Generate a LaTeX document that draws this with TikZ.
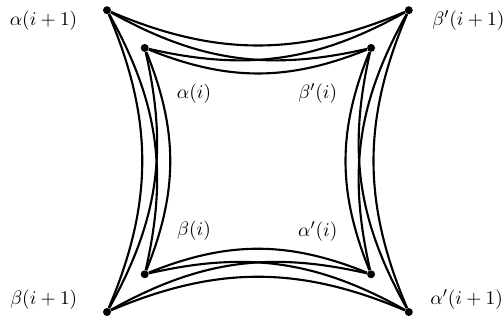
\documentclass[tikz,border=0pt]{standalone}
\usetikzlibrary{positioning}

\begin{document}
\begin{tikzpicture}[font=\fontsize{11}{13}\selectfont,
      pt/.style={circle, fill=black, inner sep=0pt, minimum size=4.5pt},
      arc/.style={line width=1.2pt, bend right=#1},
      arc/.default=23,
    ]
    \useasboundingbox (-2.127,-0.179) rectangle (7.893,6.203);

    % Outer corners
    \node[pt] (a1)  at (0, 6) {};
    \node[pt] (bp1) at (6, 6) {};
    \node[pt] (ap1) at (6, 0) {};
    \node[pt] (b1)  at (0, 0) {};

    % Inner corners
    \node[pt] (a0)  at (0.75, 5.25) {};
    \node[pt] (bp0) at (5.25, 5.25) {};
    \node[pt] (ap0) at (5.25, 0.75) {};
    \node[pt] (b0)  at (0.75, 0.75) {};

    % Outer labels
    \node[left=0.38cm of a1, yshift=-0.21cm] (la1) {$\alpha(i+1)$};
    \node[right=0.26cm of bp1, yshift=-0.21cm] (lbp1) {$\beta'(i+1)$};
    \node[left=0.38cm of b1, yshift=0.24cm] (lb1) {$\beta(i+1)$};
    \node[right=0.22cm of ap1, yshift=0.24cm] (lap1) {$\alpha'(i+1)$};

    % Inner labels
    \node (la0)  at (1.73, 4.35) {$\alpha(i)$};
    \node (lbp0) at (4.19, 4.35) {$\beta'(i)$};
    \node (lb0)  at (1.73, 1.61) {$\beta(i)$};
    \node (lap0) at (4.19, 1.61) {$\alpha'(i)$};

    % Outer sides
    \draw[arc] (a1) to (bp1);
    \draw[arc] (bp1) to (ap1);
    \draw[arc] (ap1) to (b1);
    \draw[arc] (b1) to (a1);

    % Inner sides
    \draw[arc=22] (a0) to (bp0);
    \draw[arc=22] (bp0) to (ap0);
    \draw[arc=22] (ap0) to (b0);
    \draw[arc=22] (b0) to (a0);

    % Crossing arcs, outer to inner
    \draw[arc=21] (a1) to (bp0);
    \draw[arc=21] (a0) to (bp1);
    \draw[arc=21] (bp1) to (ap0);
    \draw[arc=21] (bp0) to (ap1);
    \draw[arc=21] (ap1) to (b0);
    \draw[arc=21] (ap0) to (b1);
    \draw[arc=21] (b1) to (a0);
    \draw[arc=21] (b0) to (a1);

  \end{tikzpicture}
\end{document}
